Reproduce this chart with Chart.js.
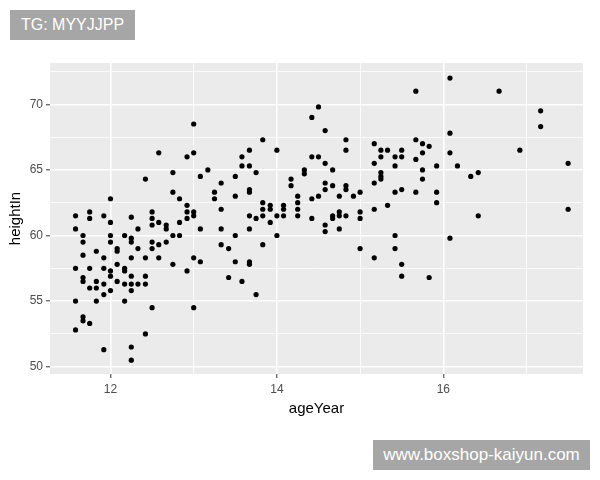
<!DOCTYPE html>
<html>
<head>
<meta charset="utf-8">
<script src="https://cdn.jsdelivr.net/npm/chart.js@4.4.1/dist/chart.umd.min.js"></script>
<style>
body { margin: 0; background: #fff; }
#wrap { position: relative; width: 600px; height: 480px; }
.wm { position: absolute; background: #a6a6a6; color: #fff; font-family: "Liberation Sans", Arial, sans-serif;
      display: flex; align-items: center; justify-content: center; }
</style>
</head>
<body>
<div id="wrap">
  <canvas id="chart"></canvas>
  <div class="wm" style="left:10px;top:10px;width:125px;height:30px;font-size:16px;">TG: MYYJJPP</div>
  <div class="wm" style="left:373px;top:440px;width:217px;height:30px;font-size:17px;">www.boxshop-kaiyun.com</div>
</div>
<script>
// ageYear / heightIn
const ageYear = [
  12.58,12.75,12.42,12.75,12.83,12.00,11.58,11.75,11.75,11.92,
  12.25,12.50,12.50,12.00,12.50,12.58,12.67,12.67,12.83,11.58,
  11.67,11.67,12.00,12.00,12.17,12.25,12.25,12.33,12.50,12.58,
  12.67,12.75,12.83,12.50,12.33,12.08,12.08,11.83,11.67,11.92,
  12.25,12.42,12.58,12.75,12.08,11.58,11.75,11.92,12.00,12.00,
  12.17,12.17,12.25,12.42,11.67,11.67,11.83,11.75,11.83,11.92,
  12.08,12.17,12.25,12.33,12.42,12.00,12.25,11.92,11.58,11.83,
  12.17,12.50,11.67,11.67,11.75,11.58,12.42,11.92,12.25,12.25,
  13.00,13.83,14.00,13.67,13.58,12.92,13.00,13.58,13.67,13.75,
  13.08,13.17,13.50,13.33,14.33,14.33,14.17,14.17,13.25,13.25,
  13.50,13.67,13.67,13.33,13.83,13.83,13.83,13.92,13.92,14.08,
  14.08,14.08,14.25,14.25,14.25,14.25,12.92,12.92,12.92,13.00,
  13.00,13.67,13.75,14.00,13.92,13.08,13.33,13.67,13.50,14.00,
  13.33,13.42,13.83,13.00,13.08,13.50,13.67,13.67,12.92,13.42,
  13.58,13.75,13.00,
  14.50,14.42,14.58,14.83,14.83,15.17,15.25,15.33,15.50,15.25,
  15.42,15.50,15.67,15.75,15.83,15.75,15.67,14.42,14.50,14.58,
  14.67,15.17,15.42,15.92,15.75,15.75,15.25,15.25,15.25,14.58,
  14.58,14.67,14.83,14.83,15.17,14.42,14.50,14.75,14.92,15.00,
  15.42,15.50,15.67,15.92,15.92,15.33,15.17,15.00,15.00,14.75,
  14.75,14.67,14.67,14.83,14.42,14.58,14.58,14.75,15.42,15.00,
  15.42,15.17,15.50,15.50,15.83,15.67,
  16.08,16.67,17.17,17.17,16.08,16.08,16.92,16.17,17.50,16.33,
  16.42,16.42,17.50,16.08
];
const heightIn = [
  66.3,64.8,64.3,63.3,62.8,62.8,61.5,61.8,61.3,61.5,
  61.4,61.8,61.3,61.0,60.8,61.0,60.8,60.5,61.0,60.5,
  60.0,59.5,60.0,59.5,60.0,59.8,59.5,60.5,59.5,59.3,
  59.5,60.0,60.0,59.0,59.0,59.0,58.8,58.8,58.5,58.3,
  58.3,58.3,58.3,57.8,57.8,57.5,57.5,57.5,57.3,56.9,
  57.5,57.3,56.9,56.9,56.8,56.5,56.5,56.0,56.0,56.3,
  56.5,56.3,56.3,56.3,56.3,55.8,55.8,55.5,55.0,55.0,
  55.0,54.5,53.8,53.5,53.3,52.8,52.5,51.3,51.5,50.5,
  68.5,67.3,66.5,66.5,66.0,66.0,66.3,65.3,65.3,64.8,
  64.5,65.0,64.5,64.0,65.0,64.7,64.3,63.8,63.3,62.8,
  63.0,63.5,63.3,62.0,62.5,62.0,61.5,62.3,62.0,62.3,
  62.0,61.5,63.0,62.5,62.0,61.5,62.3,61.8,61.3,61.8,
  61.5,61.5,61.3,61.5,61.0,60.5,60.5,60.5,60.0,60.0,
  59.3,59.0,59.3,58.3,58.0,58.0,58.0,57.8,57.3,56.8,
  56.5,55.5,54.5,
  69.8,69.0,68.0,67.3,66.5,67.0,66.5,66.5,66.5,66.0,
  66.0,66.0,67.3,67.0,66.8,66.3,65.8,66.0,66.0,65.5,
  65.0,65.5,65.3,65.3,65.0,64.3,64.8,64.5,64.3,64.0,
  63.5,63.8,63.8,63.5,64.0,62.8,63.0,63.0,63.0,63.3,
  63.3,63.5,63.3,63.3,62.5,62.3,62.0,61.8,61.3,61.8,
  61.5,61.5,61.3,61.5,61.3,60.8,60.3,60.5,60.0,59.0,
  59.0,58.3,57.8,56.9,56.8,71.0,
  72.0,71.0,69.5,68.3,67.8,66.3,66.5,65.3,65.5,64.5,
  64.8,61.5,62.0,59.8
];

const xTicks = [12, 13, 14, 15, 16, 17];
const xMajor = [12, 14, 16];
const yTicks = [50, 52.5, 55, 57.5, 60, 62.5, 65, 67.5, 70, 72.5];
const yMajor = [50, 55, 60, 65, 70];

const points = ageYear.map((a, i) => ({ x: a, y: heightIn[i] }));

const panelBg = {
  id: 'panelBg',
  beforeDraw(chart) {
    const { ctx, chartArea: a } = chart;
    ctx.save();
    ctx.fillStyle = '#ebebeb';
    ctx.fillRect(a.left, a.top, a.right - a.left, a.bottom - a.top);
    ctx.restore();
  }
};

const font = 'Liberation Sans, Arial, sans-serif';

function gridFor(major) {
  return {
    color: '#ffffff',
    lineWidth: c => major.includes(c.tick.value) ? 1.6 : 0.8,
    tickColor: c => major.includes(c.tick.value) ? '#333333' : 'rgba(0,0,0,0)',
    tickLength: 4,
    tickWidth: 1
  };
}

new Chart(document.getElementById('chart'), {
  type: 'scatter',
  data: {
    datasets: [{
      data: points,
      backgroundColor: '#000000',
      borderWidth: 0,
      pointRadius: 2.6,
      pointHoverRadius: 2.6
    }]
  },
  plugins: [panelBg],
  options: {
    responsive: true,
    maintainAspectRatio: false,
    animation: false,
    layout: { padding: { left: 0, right: 17, top: 63, bottom: 46 } },
    plugins: { legend: { display: false }, tooltip: { enabled: false } },
    scales: {
      x: {
        type: 'linear',
        min: 11.273,
        max: 17.679,
        border: { display: false },
        grid: gridFor(xMajor),
        afterBuildTicks: s => { s.ticks = xTicks.map(v => ({ value: v })); },
        afterFit: s => { s.height = 60; },
        ticks: {
          autoSkip: false,
          maxRotation: 0,
          padding: 4,
          color: '#4d4d4d',
          font: { family: font, size: 12 },
          callback: v => xMajor.includes(v) ? String(v) : ''
        },
        title: {
          display: true,
          text: 'ageYear',
          color: '#000000',
          font: { family: font, size: 15 },
          padding: { top: 0, bottom: 16 }
        }
      },
      y: {
        type: 'linear',
        min: 49.444,
        max: 73.148,
        border: { display: false },
        grid: gridFor(yMajor),
        afterBuildTicks: s => { s.ticks = yTicks.map(v => ({ value: v })); },
        afterFit: s => { s.width = 50; },
        ticks: {
          autoSkip: false,
          padding: 3,
          color: '#4d4d4d',
          font: { family: font, size: 12 },
          callback: v => yMajor.includes(v) ? String(v) : ''
        },
        title: {
          display: true,
          text: 'heightIn',
          color: '#000000',
          font: { family: font, size: 15 },
          padding: { top: 7, bottom: 0 }
        }
      }
    }
  }
});
</script>
</body>
</html>
